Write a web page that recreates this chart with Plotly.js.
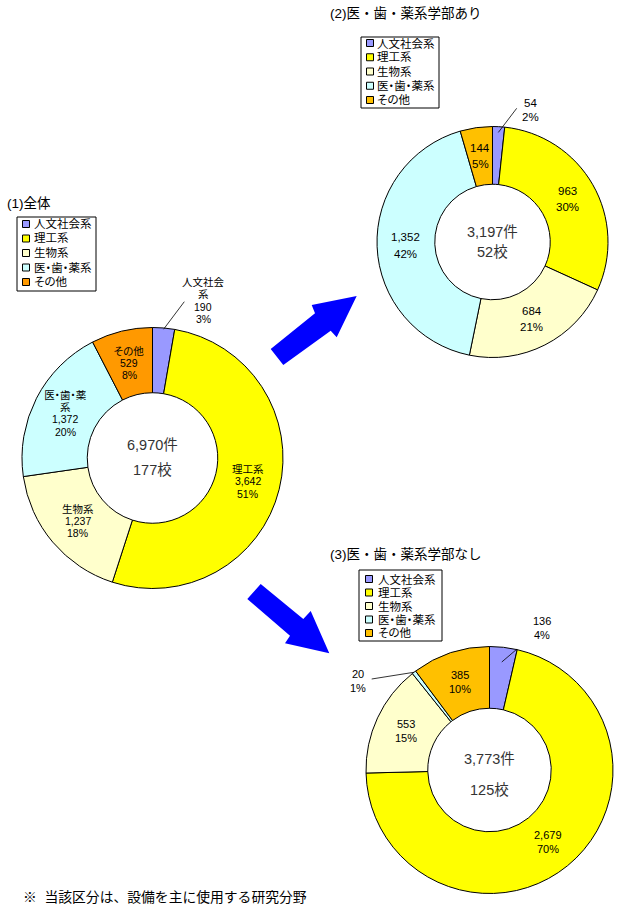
<!DOCTYPE html>
<html><head><meta charset="utf-8">
<script src="https://cdn.plot.ly/plotly-3.0.1.min.js"></script>
<style>
html,body{margin:0;padding:0;background:#fff}
#chart{width:618px;height:918px}
#chart .annotation text{font-feature-settings:"palt" 1}
</style>
</head><body><div id="chart"></div>
<script>
// ---- data ----
const categories = ['人文社会系', '理工系', '生物系', '医・歯・薬系', 'その他'];
const categoryLabelLines = [['人文社会', '系'], ['理工系'], ['生物系'], ['医・歯・薬', '系'], ['その他']];
const valuesAll = [190, 3642, 1237, 1372, 529];
const percentAll = [3, 51, 18, 20, 8];
const valuesWith = [54, 963, 684, 1352, 144];
const percentWith = [2, 30, 21, 42, 5];
const valuesWithout = [136, 2679, 553, 20, 385];
const percentWithout = [4, 70, 15, 1, 10];
const schoolCounts = [177, 52, 125];
const chartTitles = ['(1)全体', '(2)医・歯・薬系学部あり', '(3)医・歯・薬系学部なし'];
const footnote = '※  当該区分は、設備を主に使用する研究分野';

// ---- styles / layout ----
const colorsAll = ['#9999FF', '#FFFF00', '#FFFFCC', '#CCFFFF', '#FF9900'];
const colorsSub = ['#9999FF', '#FFFF00', '#FFFFCC', '#CCFFFF', '#FFC000'];
const W = 618, H = 918;
const px = x => x / W, py = y => 1 - y / H;
const FONT = 'Liberation Sans, Noto Sans CJK JP, sans-serif';

const pies = [
  {values: valuesAll, pct: percentAll, colors: colorsAll, schools: schoolCounts[0], title: chartTitles[0],
   cx: 152.5, cy: 458, R: 130.5, hole: 0.5, showNames: true, lblSize: 10.5, lblGap: 12.3,
   centerY: [445, 470], titlePos: [5, 203],
   legend: {x0: 17, y0: 217, x1: 96, y1: 291, rowY0: 224, rowStep: 14.5, sqX: 22.5, txtX: 31.5},
   outside: {0: {tx: 203, ty: 300.5, rf: 0.99, ex: 184.3, ey: 301.7, gap: 12.5}}},
  {values: valuesWith, pct: percentWith, colors: colorsSub, schools: schoolCounts[1], title: chartTitles[1],
   cx: 492.5, cy: 242, R: 115.5, hole: 0.5, showNames: false, lblSize: 11.5, lblGap: 16.5,
   centerY: [232, 251.5], titlePos: [328, 13],
   legend: {x0: 361, y0: 37, x1: 439, y1: 108, rowY0: 43, rowStep: 14.25, sqX: 366.5, txtX: 375},
   outside: {0: {tx: 530, ty: 110, rf: 0.95, ex: 516.7, ey: 108.3, gap: 14}}},
  {values: valuesWithout, pct: percentWithout, colors: colorsSub, schools: schoolCounts[2], title: chartTitles[2],
   cx: 489.5, cy: 770, R: 123.5, hole: 0.5, showNames: false, lblSize: 11, lblGap: 14,
   centerY: [759, 790], titlePos: [328, 554],
   legend: {x0: 359, y0: 570, x1: 442, y1: 641, rowY0: 579, rowStep: 13.5, sqX: 365.5, txtX: 376},
   outside: {0: {tx: 542, ty: 628, rf: 0.88, ex: 517, ey: 649, gap: 14},
             3: {tx: 358, ty: 681, rf: 1.0, ex: 371.7, ey: 679, gap: 14}}}
];

const annotations = [], shapes = [], traces = [];
const noPalt = [];
const fmt = v => v.toLocaleString('en-US');
function addText(text, x, y, size, opts) {
  annotations.push(Object.assign({
    text: text, x: px(x), y: py(y), xref: 'paper', yref: 'paper', showarrow: false,
    xanchor: 'center', yanchor: 'middle', font: {family: FONT, size: size, color: '#000'}
  }, opts || {}));
  return annotations.length - 1;
}

pies.forEach(p => {
  traces.push({
    type: 'pie', values: p.values, labels: categories, sort: false, direction: 'clockwise', rotation: 0,
    hole: p.hole, marker: {colors: p.colors, line: {color: '#000', width: 1}},
    textinfo: 'none', textposition: 'none', hoverinfo: 'label+value', showlegend: false,
    domain: {x: [px(p.cx - p.R), px(p.cx + p.R)], y: [py(p.cy + p.R), py(p.cy - p.R)]}
  });
  const total = p.values.reduce((a, b) => a + b, 0);
  let cum = 0;
  p.values.forEach((v, i) => {
    const mid = (cum + v / 2) / total * 2 * Math.PI; cum += v;
    const lines = (p.showNames ? categoryLabelLines[i] : []).concat([fmt(v), p.pct[i] + '%']);
    let lx, ly, gap = p.lblGap;
    const o = p.outside[i];
    if (o) {
      lx = o.tx; ly = o.ty; gap = o.gap || gap;
      const tx = p.cx + p.R * o.rf * Math.sin(mid), ty = p.cy - p.R * o.rf * Math.cos(mid);
      shapes.push({type: 'line', xref: 'paper', yref: 'paper', x0: px(tx), y0: py(ty), x1: px(o.ex), y1: py(o.ey),
        line: {color: '#000', width: 0.8}});
    } else {
      const rm = p.R * (1 + p.hole) / 2;
      lx = p.cx + rm * Math.sin(mid); ly = p.cy - rm * Math.cos(mid);
    }
    lines.forEach((t, j) => addText(t, lx, ly + (j - (lines.length - 1) / 2) * gap, p.lblSize));
  });
  addText(fmt(total) + '件', p.cx, p.centerY[0], 14.5, {font: {family: FONT, size: 14.5, color: '#333'}});
  addText(p.schools + '校', p.cx, p.centerY[1], 14.5, {font: {family: FONT, size: 14.5, color: '#333'}});
  noPalt.push(addText(p.title, p.titlePos[0], p.titlePos[1], 13.5, {xanchor: 'left', align: 'left'}));
  const L = p.legend;
  shapes.push({type: 'rect', xref: 'paper', yref: 'paper', x0: px(L.x0), x1: px(L.x1), y0: py(L.y1), y1: py(L.y0),
    line: {color: '#000', width: 1}, fillcolor: 'rgba(255,255,255,0)'});
  categories.forEach((c, i) => {
    const ry = L.rowY0 + i * L.rowStep;
    shapes.push({type: 'rect', xref: 'paper', yref: 'paper', x0: px(L.sqX), x1: px(L.sqX + 7), y0: py(ry + 3.5), y1: py(ry - 3.5),
      fillcolor: p.colors[i], line: {color: '#000', width: 1}});
    addText(c, L.txtX, ry, 11.5, {xanchor: 'left', align: 'left'});
  });
});

// big blue arrows
function polyPath(pts) {
  return pts.map((q, i) => (i ? 'L' : 'M') + px(q[0]).toFixed(5) + ',' + py(q[1]).toFixed(5)).join(' ') + ' Z';
}
const arrowUp = [[270.7, 349], [315, 313.3], [311.7, 305], [356.7, 296], [336.7, 337.3], [330.7, 330.7], [283.3, 365]];
const arrowDown = [[260.7, 584], [303.3, 619], [310.7, 611], [329.3, 653.3], [285, 643.3], [290, 635.7], [247.3, 599]];
[arrowUp, arrowDown].forEach(a => shapes.push({type: 'path', xref: 'paper', yref: 'paper', path: polyPath(a),
  fillcolor: '#0000FF', line: {width: 0}}));

noPalt.push(addText(footnote, 21, 897, 13.8, {xanchor: 'left', align: 'left'}));
const st = document.createElement('style');
st.textContent = noPalt.map(i => '#chart .annotation[data-index="' + i + '"] text').join(',') + '{font-feature-settings:normal}';
document.head.appendChild(st);

Plotly.newPlot('chart', traces, {
  width: W, height: H, margin: {l: 0, r: 0, t: 0, b: 0}, paper_bgcolor: '#fff',
  showlegend: false, annotations: annotations, shapes: shapes
}, {displayModeBar: false, staticPlot: true});
</script></body></html>
